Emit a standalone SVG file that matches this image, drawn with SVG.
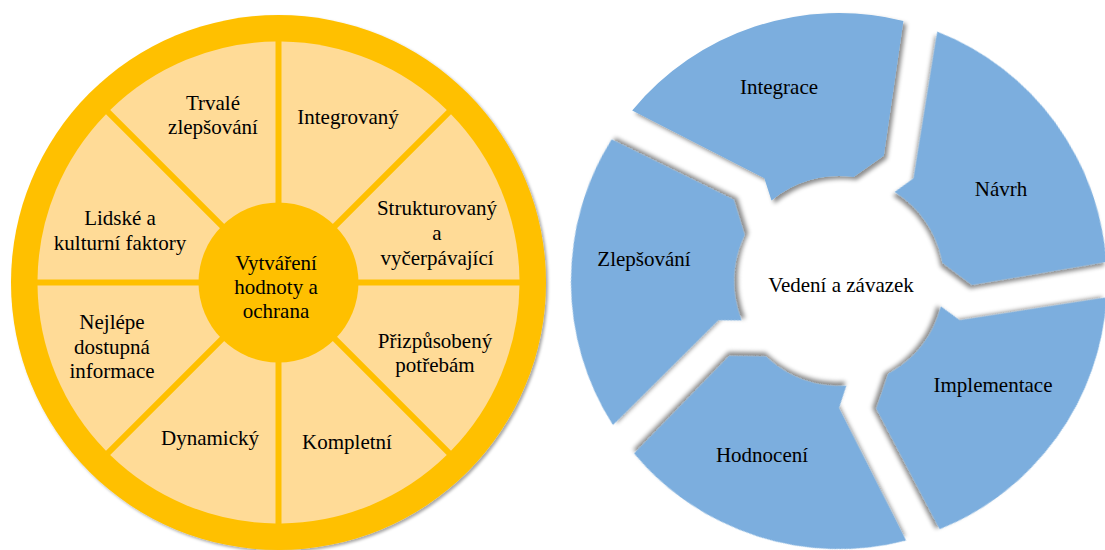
<svg xmlns="http://www.w3.org/2000/svg" xmlns:xlink="http://www.w3.org/1999/xlink" width="1105" height="550" viewBox="0 0 1105 550">
<style>
text{font-family:'Liberation Serif','DejaVu Serif',serif;font-size:21px;fill:#000;text-anchor:middle}
.ring{fill:#FFC000}
.sec{fill:#FFDB97}
.hub{fill:#FFC000}
.seg{fill:#7BAEDE}
</style>
<defs>
<filter id="sh" x="-10%" y="-10%" width="125%" height="125%">
<feDropShadow dx="3" dy="3" stdDeviation="2" flood-color="#000" flood-opacity="0.45"/>
</filter>
<filter id="sh2" x="-10%" y="-10%" width="125%" height="125%">
<feDropShadow dx="2" dy="2" stdDeviation="1.5" flood-color="#000" flood-opacity="0.35"/>
</filter>
<path id="sector" d="M281.5 275.26 L281.5 41.52 A241 241 0 0 1 446.79 109.99 Z"/>
<path id="segment" d="M632.2 110.5 L764.35 178.3 L771.5 200.6 A105 105 0 0 1 853.6 177 L883.8 155.8 L903.4 20.9 A268 268 0 0 0 632.2 110.5 Z"/>
</defs>

<g id="left-wheel" font-family="Liberation Serif, serif">
<circle class="ring" cx="278.5" cy="282.5" r="267.5" filter="url(#sh2)"/>
<g id="s-integrovany"><use xlink:href="#sector" class="sec"/><text x="348" y="124">Integrovaný</text></g>
<g id="s-strukturovany"><use xlink:href="#sector" class="sec" transform="rotate(45 278.5 282.5)"/><text x="437" y="215">Strukturovaný</text><text x="437" y="240">a</text><text x="437" y="265">vyčerpávající</text></g>
<g id="s-prizpusobeny"><use xlink:href="#sector" class="sec" transform="rotate(90 278.5 282.5)"/><text x="435" y="348">Přizpůsobený</text><text x="435" y="372">potřebám</text></g>
<g id="s-kompletni"><use xlink:href="#sector" class="sec" transform="rotate(135 278.5 282.5)"/><text x="347" y="449">Kompletní</text></g>
<g id="s-dynamicky"><use xlink:href="#sector" class="sec" transform="rotate(180 278.5 282.5)"/><text x="210" y="445">Dynamický</text></g>
<g id="s-nejlepe"><use xlink:href="#sector" class="sec" transform="rotate(225 278.5 282.5)"/><text x="112" y="329">Nejlépe</text><text x="112" y="354">dostupná</text><text x="112" y="378">informace</text></g>
<g id="s-lidske"><use xlink:href="#sector" class="sec" transform="rotate(270 278.5 282.5)"/><text x="120" y="225">Lidské a</text><text x="120" y="250">kulturní faktory</text></g>
<g id="s-trvale"><use xlink:href="#sector" class="sec" transform="rotate(315 278.5 282.5)"/><text x="213" y="110">Trvalé</text><text x="213" y="134">zlepšování</text></g>
<g id="hub"><circle class="hub" cx="278.5" cy="282.5" r="80"/><text x="276" y="270">Vytváření</text><text x="276" y="294">hodnoty a</text><text x="276" y="318">ochrana</text></g>
</g>

<g id="connectors"></g>

<g id="right-cycle" font-family="Liberation Serif, serif">
<g id="integrace"><use xlink:href="#segment" class="seg" filter="url(#sh)"/><text x="779" y="94">Integrace</text></g>
<g id="navrh"><use xlink:href="#segment" class="seg" filter="url(#sh)" transform="rotate(72 839 281)"/><text x="1001" y="196">Návrh</text></g>
<g id="implementace"><use xlink:href="#segment" class="seg" filter="url(#sh)" transform="rotate(144 839 281)"/><text x="993" y="392">Implementace</text></g>
<g id="hodnoceni"><use xlink:href="#segment" class="seg" filter="url(#sh)" transform="rotate(216 839 281)"/><text x="762" y="462">Hodnocení</text></g>
<g id="zlepsovani"><use xlink:href="#segment" class="seg" filter="url(#sh)" transform="rotate(288 839 281)"/><text x="644" y="266">Zlepšování</text></g>
<g id="vedeni"><text x="841" y="292">Vedení a závazek</text></g>
</g>
</svg>
